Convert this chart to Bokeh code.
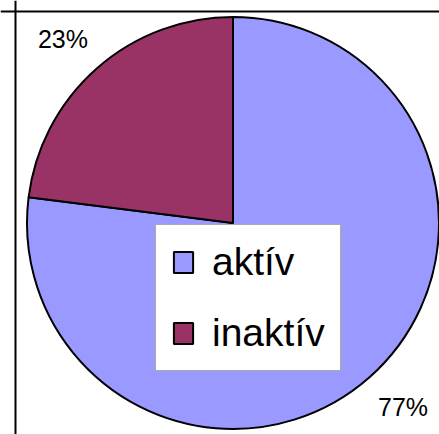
import math
from bokeh.plotting import figure
from bokeh.models import Span, Legend, LegendItem
from bokeh.core.properties import value
from bokeh.embed import file_html
from bokeh.resources import INLINE

categories = ["aktív", "inaktív"]
percents = [77, 23]
colors = ["#9999FF", "#993366"]

W, H = 439, 434
S = 206.0            # pixels per data unit (pie radius = 1)
CX, CY = 232.5, 222.5  # pie centre in frame pixels (from left, from top)

p = figure(width=W, height=H, output_backend="svg", toolbar_location=None,
           x_range=(-CX / S, (W - CX) / S), y_range=(-(H - CY) / S, CY / S),
           min_border=0, min_border_left=0, min_border_right=0,
           min_border_top=0, min_border_bottom=0)
p.axis.visible = False
p.grid.visible = False
p.outline_line_color = None
p.background_fill_color = "white"
p.border_fill_color = "white"

total = sum(percents)
fr_in = percents[1] / total
a0 = math.pi / 2
a_in_end = a0 + 2 * math.pi * fr_in
starts = [a_in_end, a0]
ends = [a0 + 2 * math.pi, a_in_end]

renderers = []
for i in range(len(categories)):
    r = p.wedge(x=0, y=0, radius=1, start_angle=starts[i], end_angle=ends[i],
                fill_color=colors[i], line_color="black", line_width=2)
    renderers.append(r)

# percentage labels outside the pie, along each slice's mid-angle
LFX, LFY = 1.248, 1.188
lx, ly, lt = [], [], []
for i in range(len(categories)):
    mid = (starts[i] + ends[i]) / 2
    lx.append(LFX * math.cos(mid))
    ly.append(LFY * math.sin(mid))
    lt.append(f"{percents[i]}%")
p.text(x=lx, y=ly, text=lt, text_align="center", text_baseline="middle",
       text_font=value("Liberation Sans"), text_font_size="25px", text_color="black")

x0 = -CX / S
y1 = CY / S
p.add_layout(Span(location=x0 + 15 / S, dimension="height", line_color="black", line_width=2))
p.add_layout(Span(location=y1 - 11 / S, dimension="width", line_color="black", line_width=2))

legend = Legend(items=[LegendItem(label=categories[i], renderers=[renderers[i]]) for i in range(len(categories))],
                location=(155, 63))
legend.label_text_font = "Liberation Sans"
legend.label_text_font_size = "39px"
legend.label_text_color = "black"
legend.glyph_width = 24
legend.glyph_height = 26
legend.label_height = 26
legend.label_standoff = 17
legend.spacing = 27
legend.padding = 15
legend.margin = 0
legend.border_line_color = "#555555"
legend.border_line_width = 1
legend.background_fill_color = "white"
legend.background_fill_alpha = 1.0
p.add_layout(legend, "center")

open("out.html", "w").write(file_html(p, INLINE))
